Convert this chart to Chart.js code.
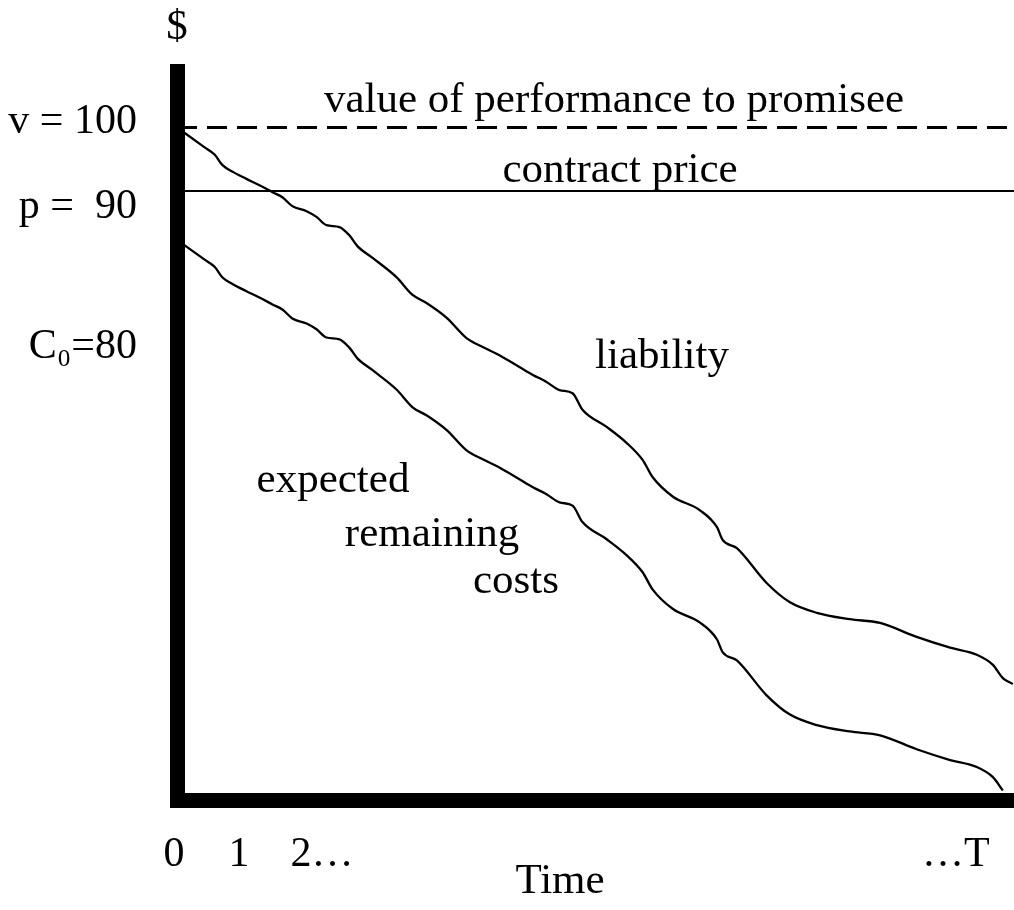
<!DOCTYPE html>
<html>
<head>
<meta charset="utf-8">
<script src="https://cdn.jsdelivr.net/npm/chart.js@4"></script>
<style>
  body { margin: 0; background: #fff; }
  canvas { display: block; }
</style>
</head>
<body>
<canvas id="chart" width="1014" height="910"></canvas>
<script>
// Time positions (0 .. T)
const timePoints = [0, 0.44, 0.61, 0.73, 0.90, 1.12, 1.33, 1.54, 1.70, 1.86, 2.09, 2.25, 2.41, 2.62,
    2.78, 2.91, 3.16, 3.54, 3.80, 4.03, 4.35, 4.67, 4.93, 5.20, 5.53, 5.74, 5.96, 6.17, 6.38, 6.54,
    6.93, 7.25, 7.51, 7.67, 8.00, 8.43, 8.71, 8.80, 9.03, 9.51, 9.88, 10.32, 10.85, 11.34, 11.93,
    12.47, 12.90, 13.16, 13.32, 13.48];

// liability curve
const liability = [100, 96.9, 95.7, 94.1, 93.0, 91.9, 90.9, 89.8, 89.0, 87.6, 86.8, 85.9, 84.6, 84.3,
    83.0, 81.3, 79.4, 76.4, 73.6, 72.3, 70.0, 66.8, 65.4, 64.1, 62.2, 61.0, 59.9, 58.6, 58.1, 55.5,
    52.8, 50.3, 47.6, 44.9, 41.8, 39.7, 37.0, 35.0, 33.7, 28.2, 25.2, 23.5, 22.5, 21.9, 19.7,
    18.0, 16.9, 15.3, 13.2, 12.3];

// expected remaining costs (ends where it meets the time axis)
const expectedCosts = [82.3, 79.2, 78.0, 76.4, 75.3, 74.2, 73.2, 72.1, 71.3, 69.9, 69.1, 68.2, 66.9, 66.6,
    65.3, 63.6, 61.7, 58.7, 55.9, 54.6, 52.3, 49.1, 47.7, 46.4, 44.5, 43.3, 42.2, 40.9, 40.4, 37.8,
    35.1, 32.6, 29.9, 27.2, 24.1, 22.0, 19.3, 17.3, 16.0, 10.5, 7.5, 5.8, 4.8, 4.2, 2.0,
    0.3, -0.8, -2.4, -4.5];

const promiseeValue = 100;
const contractPrice = 90;
const timeRange = [0, 13.5];

// tick labels
const xTickValues = [-0.05, 1, 2.34, 12.56];
const xTickLabels = ['0', '1', '2…', '…T'];
const yTickValues = [100.87, 87.47, 65.4];
const yTickLabels = ['v = 100', 'p =  90', 'C₀=80'];

const serif = "'Liberation Serif', 'Times New Roman', 'DejaVu Serif', serif";
Chart.defaults.font.family = serif;
Chart.defaults.font.size = 42;
Chart.defaults.color = '#000';

function toPoints(xs, ys) {
    return ys.map((y, i) => ({ x: xs[i], y: y }));
}

// free text on the chart
const annotations = {
    id: 'annotations',
    afterDraw(chart) {
        const ctx = chart.ctx;
        ctx.save();
        ctx.fillStyle = '#000';
        ctx.font = '43px ' + serif;
        ctx.textAlign = 'center';
        ctx.textBaseline = 'alphabetic';
        const texts = [
            ['$', 177, 39],
            ['value of performance to promisee', 614, 112],
            ['contract price', 620, 182],
            ['liability', 662, 368],
            ['expected', 333, 492],
            ['remaining', 432, 546],
            ['costs', 516, 593],
            ['Time', 560, 893]
        ];
        texts.forEach(([t, x, y]) => ctx.fillText(t, x, y));
        ctx.restore();
    }
};

const ctx = document.getElementById('chart').getContext('2d');
new Chart(ctx, {
    type: 'line',
    data: {
        datasets: [
            {
                label: 'value of performance to promisee',
                data: toPoints(timeRange, [promiseeValue, promiseeValue]),
                borderColor: '#000',
                borderWidth: 3,
                borderDash: [20, 10]
            },
            {
                label: 'contract price',
                data: toPoints(timeRange, [contractPrice, contractPrice]),
                borderColor: '#000',
                borderWidth: 2
            },
            {
                label: 'liability',
                data: toPoints(timePoints, liability),
                borderColor: '#000',
                borderWidth: 2.3,
                cubicInterpolationMode: 'monotone'
            },
            {
                label: 'expected remaining costs',
                data: toPoints(timePoints, expectedCosts),
                borderColor: '#000',
                borderWidth: 2.3,
                cubicInterpolationMode: 'monotone'
            }
        ]
    },
    options: {
        responsive: false,
        animation: false,
        layout: { padding: { top: 71, left: 0, right: 0, bottom: 0 } },
        elements: { point: { radius: 0 } },
        plugins: {
            legend: { display: false },
            tooltip: { enabled: false }
        },
        scales: {
            x: {
                type: 'linear',
                min: timeRange[0],
                max: timeRange[1],
                grid: { display: false, drawTicks: false },
                border: { display: true, width: 15, color: '#000' },
                afterBuildTicks: scale => {
                    scale.ticks = xTickValues.map(v => ({ value: v }));
                },
                afterFit: scale => {
                    scale.height = 110;
                    scale.paddingLeft = 0;
                    scale.paddingRight = 0;
                },
                ticks: {
                    autoSkip: false,
                    maxRotation: 0,
                    padding: 30,
                    callback: (value, index) => xTickLabels[index]
                }
            },
            y: {
                type: 'linear',
                min: -6,
                max: 108.9,
                grid: { display: false, drawTicks: false },
                border: { display: true, width: 15, color: '#000' },
                afterBuildTicks: scale => {
                    scale.ticks = yTickValues.map(v => ({ value: v }));
                },
                afterFit: scale => {
                    scale.width = 177;
                    scale.paddingTop = 0;
                    scale.paddingBottom = 0;
                },
                ticks: {
                    autoSkip: false,
                    padding: 40,
                    callback: (value, index) => yTickLabels[index]
                }
            }
        }
    },
    plugins: [annotations]
});
</script>
</body>
</html>
